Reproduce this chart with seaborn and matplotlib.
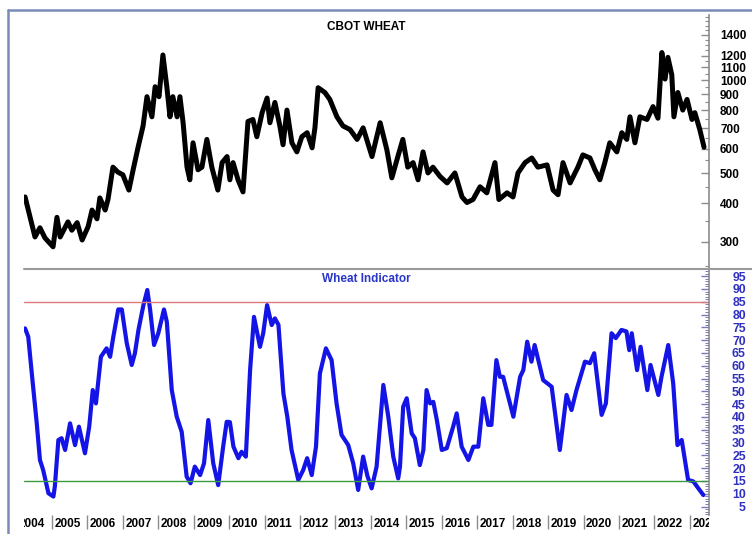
import pandas as pd
import seaborn as sns
import matplotlib.pyplot as plt
from matplotlib.lines import Line2D
from matplotlib.ticker import FixedLocator, NullFormatter, MultipleLocator
from matplotlib.transforms import Bbox, TransformedBbox, ScaledTranslation, blended_transform_factory

# CBOT wheat price (cents/bu)
price_years = [2004.24, 2004.52, 2004.66, 2004.80, 2005.03, 2005.14, 2005.23, 2005.45, 2005.56, 2005.71,
               2005.85, 2006.02, 2006.13, 2006.27, 2006.35, 2006.50, 2006.58, 2006.72, 2006.86, 2007.00,
               2007.17, 2007.29, 2007.43, 2007.57, 2007.68, 2007.82, 2007.91, 2008.02, 2008.13, 2008.24,
               2008.33, 2008.41, 2008.53, 2008.61, 2008.70, 2008.81, 2008.89, 2008.98, 2009.12, 2009.23,
               2009.37, 2009.51, 2009.68, 2009.80, 2009.94, 2010.02, 2010.11, 2010.25, 2010.39, 2010.53,
               2010.67, 2010.78, 2010.93, 2011.07, 2011.15, 2011.29, 2011.43, 2011.52, 2011.63, 2011.77,
               2011.91, 2012.05, 2012.20, 2012.34, 2012.42, 2012.51, 2012.70, 2012.84, 2013.04, 2013.21,
               2013.41, 2013.61, 2013.78, 2014.03, 2014.26, 2014.45, 2014.59, 2014.76, 2014.90, 2015.04,
               2015.19, 2015.33, 2015.47, 2015.61, 2015.75, 2015.95, 2016.15, 2016.37, 2016.57, 2016.71,
               2016.88, 2017.08, 2017.27, 2017.50, 2017.61, 2017.84, 2018.01, 2018.15, 2018.35, 2018.54,
               2018.71, 2018.97, 2019.14, 2019.28, 2019.42, 2019.62, 2019.84, 2019.98, 2020.18, 2020.32,
               2020.46, 2020.60, 2020.74, 2020.94, 2021.08, 2021.22, 2021.31, 2021.45, 2021.59, 2021.79,
               2021.96, 2022.10, 2022.21, 2022.30, 2022.38, 2022.49, 2022.55, 2022.66, 2022.80, 2022.92,
               2023.06, 2023.14, 2023.28, 2023.40]
price_values = [419, 311, 333, 309, 289, 360, 311, 348, 327, 346,
                304, 336, 380, 356, 416, 380, 411, 523, 504, 494,
                441, 513, 607, 711, 884, 761, 952, 884, 1206, 952,
                761, 884, 761, 884, 728, 523, 476, 627, 513, 523,
                643, 523, 441, 541, 566, 476, 541, 476, 435, 735,
                746, 656, 785, 875, 728, 847, 711, 618, 800, 627,
                586, 656, 676, 604, 701, 945, 912, 866, 761, 711,
                692, 643, 701, 566, 728, 595, 483, 566, 643, 523,
                541, 476, 586, 501, 523, 488, 465, 501, 419, 402,
                411, 452, 432, 541, 411, 432, 419, 501, 541, 560,
                523, 532, 441, 426, 541, 465, 523, 573, 560, 513,
                476, 541, 627, 586, 676, 643, 761, 627, 761, 746,
                821, 753, 1228, 1008, 1185, 1040, 761, 912, 800, 866,
                746, 785, 692, 607]

# Wheat Indicator (0-100)
ind_years = [2004.24, 2004.33, 2004.43, 2004.57, 2004.66, 2004.75, 2004.90, 2005.04, 2005.08, 2005.18,
             2005.27, 2005.37, 2005.51, 2005.65, 2005.76, 2005.93, 2006.05, 2006.15, 2006.24, 2006.38,
             2006.54, 2006.64, 2006.73, 2006.87, 2006.97, 2007.11, 2007.25, 2007.34, 2007.44, 2007.58,
             2007.69, 2007.77, 2007.88, 2008.00, 2008.16, 2008.24, 2008.38, 2008.52, 2008.66, 2008.80,
             2008.91, 2009.03, 2009.18, 2009.29, 2009.41, 2009.55, 2009.69, 2009.83, 2009.93, 2010.02,
             2010.12, 2010.26, 2010.35, 2010.47, 2010.59, 2010.70, 2010.87, 2010.96, 2011.07, 2011.20,
             2011.29, 2011.39, 2011.53, 2011.64, 2011.76, 2011.95, 2012.09, 2012.20, 2012.33, 2012.45,
             2012.56, 2012.73, 2012.89, 2013.03, 2013.17, 2013.36, 2013.50, 2013.64, 2013.78, 2013.90,
             2014.02, 2014.16, 2014.35, 2014.49, 2014.63, 2014.77, 2014.82, 2014.91, 2015.01, 2015.15,
             2015.24, 2015.38, 2015.48, 2015.57, 2015.67, 2015.76, 2015.86, 2016.00, 2016.14, 2016.32,
             2016.42, 2016.56, 2016.75, 2016.89, 2017.03, 2017.17, 2017.31, 2017.40, 2017.54, 2017.64,
             2017.73, 2018.02, 2018.21, 2018.30, 2018.41, 2018.53, 2018.62, 2018.86, 2019.10, 2019.33,
             2019.52, 2019.66, 2019.80, 2020.04, 2020.18, 2020.30, 2020.51, 2020.63, 2020.79, 2020.91,
             2021.07, 2021.21, 2021.29, 2021.36, 2021.51, 2021.61, 2021.80, 2021.89, 2022.11, 2022.20,
             2022.39, 2022.53, 2022.65, 2022.77, 2022.95, 2023.10, 2023.24, 2023.38]
ind_values = [74.6, 71.3, 57, 37.5, 23.2, 19.3, 10.2, 8.9, 12.8, 31,
              31.7, 27.1, 37.5, 29, 36.2, 25.8, 36.2, 50.5, 45.3, 63.5,
              66.8, 63.5, 71.3, 82, 82, 68.8, 60.3, 64.9, 74, 83.7,
              89.6, 81.8, 68.1, 72.7, 82, 77.2, 50.5, 40.1, 34.2, 16.7,
              14.1, 20.6, 17.3, 21.9, 38.8, 21.9, 13.4, 28.4, 38.1, 38,
              28.4, 23.9, 26.4, 24.5, 58.3, 79.1, 67.4, 72.7, 83.7, 75.9,
              78.5, 76, 49.2, 40.1, 27.1, 15.4, 19.3, 23.9, 17.3, 28.4,
              57, 66.8, 62.2, 45.3, 33, 29, 21.9, 11.5, 24.5, 17,
              12.1, 20.6, 52.5, 40.1, 24.5, 16, 20.6, 44, 47.3, 33.6,
              31.7, 21.2, 27.1, 50.5, 45.3, 45.9, 38.8, 27.1, 27.8, 36.2,
              41.4, 28.4, 23.2, 28.4, 28.4, 47.3, 36.9, 36.9, 62.2, 55.7,
              55.7, 40.1, 55.7, 58.3, 69.4, 61.6, 68.1, 54.4, 51.8, 27.1,
              48.6, 42.7, 50.5, 61.6, 61, 64.9, 40.8, 45.3, 72.7, 70.8,
              74, 73.4, 66.1, 72.7, 58.3, 67.4, 50.5, 60.3, 48.6, 55.7,
              68.1, 53.1, 29, 31, 15.4, 14.8, 12.1, 9.5]

years = list(range(2004, 2024))
price_ticks = [300, 400, 500, 600, 700, 800, 900, 1000, 1100, 1200, 1400]
ind_ticks = list(range(5, 100, 5))
upper_level = 85
lower_level = 15

price_df = pd.DataFrame({'year': price_years, 'price': price_values})
ind_df = pd.DataFrame({'year': ind_years, 'value': ind_values})

sns.set_theme(style='white')
plt.rcParams['font.family'] = ['Liberation Sans', 'DejaVu Sans']

W, H = 752, 534
fig = plt.figure(figsize=(W / 100, H / 100), dpi=100)


def fx(px):
    return px / W


def fy(py):
    return 1 - py / H


ax1 = fig.add_axes([fx(24), fy(269), fx(709) - fx(24), fy(15) - fy(269)])
ax2 = fig.add_axes([fx(24), fy(515), fx(709) - fx(24), fy(269) - fy(515)])

sns.lineplot(data=price_df, x='year', y='price', ax=ax1, color='black', linewidth=3.6,
             estimator=None, sort=False, solid_joinstyle='round', solid_capstyle='round')
sns.lineplot(data=ind_df, x='year', y='value', ax=ax2, color='#1414e6', linewidth=3.0,
             estimator=None, sort=False, solid_joinstyle='round', solid_capstyle='round')

ax2.axhline(upper_level, color='#e07878', lw=1)
ax2.axhline(lower_level, color='#3c9c3c', lw=1)

for ax in (ax1, ax2):
    ax.set_xlim(2004.21, 2023.54)
    ax.set_xlabel('')
    ax.set_ylabel('')
    ax.set_facecolor('white')
    for s in ('left', 'top', 'bottom'):
        ax.spines[s].set_visible(False)
    ax.spines['right'].set_color('#8c8c8c')
    ax.spines['right'].set_linewidth(1.2)
    ax.yaxis.tick_right()

# top panel: log price scale
ax1.set_yscale('log')
ax1.set_ylim(245, 1624)
ax1.set_xticks([])
ax1.yaxis.set_major_locator(FixedLocator(price_ticks))
ax1.set_yticklabels([str(t) for t in price_ticks])
ax1.yaxis.set_minor_locator(FixedLocator([v for v in range(250, 1650, 50) if v not in price_ticks]))
ax1.yaxis.set_minor_formatter(NullFormatter())
ax1.tick_params(axis='y', which='major', direction='in', length=6, width=1, color='#8c8c8c',
                labelsize=8.5, pad=8, labelcolor='black')
ax1.tick_params(axis='y', which='minor', direction='in', length=3, width=0.8, color='#8c8c8c')
plt.setp(ax1.get_yticklabels(), fontweight='bold')
ax1.text(0.5, 0.953, 'CBOT WHEAT', transform=ax1.transAxes, ha='center', va='center',
         fontsize=8.5, fontweight='bold', color='black')

# bottom panel: indicator
ax2.set_ylim(1.7, 97.8)
ax2.yaxis.set_major_locator(FixedLocator(ind_ticks))
ax2.set_yticklabels([str(t) for t in ind_ticks])
ax2.yaxis.set_minor_locator(MultipleLocator(1))
ax2.tick_params(axis='y', which='major', direction='in', length=6, width=1, color='#7878c0',
                labelsize=8.8, pad=26.5, labelcolor='#3030c0')
ax2.tick_params(axis='y', which='minor', direction='in', length=3, width=0.7, color='#7878c0')
for lab in ax2.get_yticklabels():
    lab.set_fontweight('bold')
    lab.set_horizontalalignment('right')
ax2.text(0.5, 0.959, 'Wheat Indicator', transform=ax2.transAxes, ha='center', va='center',
         fontsize=8.5, fontweight='bold', color='#2a36c8')

# year separators and labels under the bottom panel
ax2.set_xticks(years[1:])
ax2.set_xticklabels([])
ax2.tick_params(axis='x', which='major', direction='out', length=10, width=1, color='#8c8c8c', bottom=True)
label_tr = blended_transform_factory(ax2.transData, ax2.transAxes) + \
    ScaledTranslation(0.025, -0.09, fig.dpi_scale_trans)
clip = TransformedBbox(Bbox([[fx(24), 0], [fx(709), fy(515)]]), fig.transFigure)
for yr in years:
    t = fig.text(yr, 0, str(yr), transform=label_tr, ha='left', va='center',
                 fontsize=8.5, fontweight='bold', color='black')
    t.set_clip_on(True)
    t.set_clip_box(clip)

# outer frame and panel separator
fig.add_artist(Line2D([fx(8), fx(8)], [fy(10), 0], transform=fig.transFigure, color='#7a8cb5', lw=1.8))
fig.add_artist(Line2D([fx(8), 1], [fy(10), fy(10)], transform=fig.transFigure, color='#7a8cb5', lw=1.8))
fig.add_artist(Line2D([fx(24), 1], [fy(269), fy(269)], transform=fig.transFigure, color='#9a9a9a', lw=1.5))

fig.savefig('out.png', dpi=100)
